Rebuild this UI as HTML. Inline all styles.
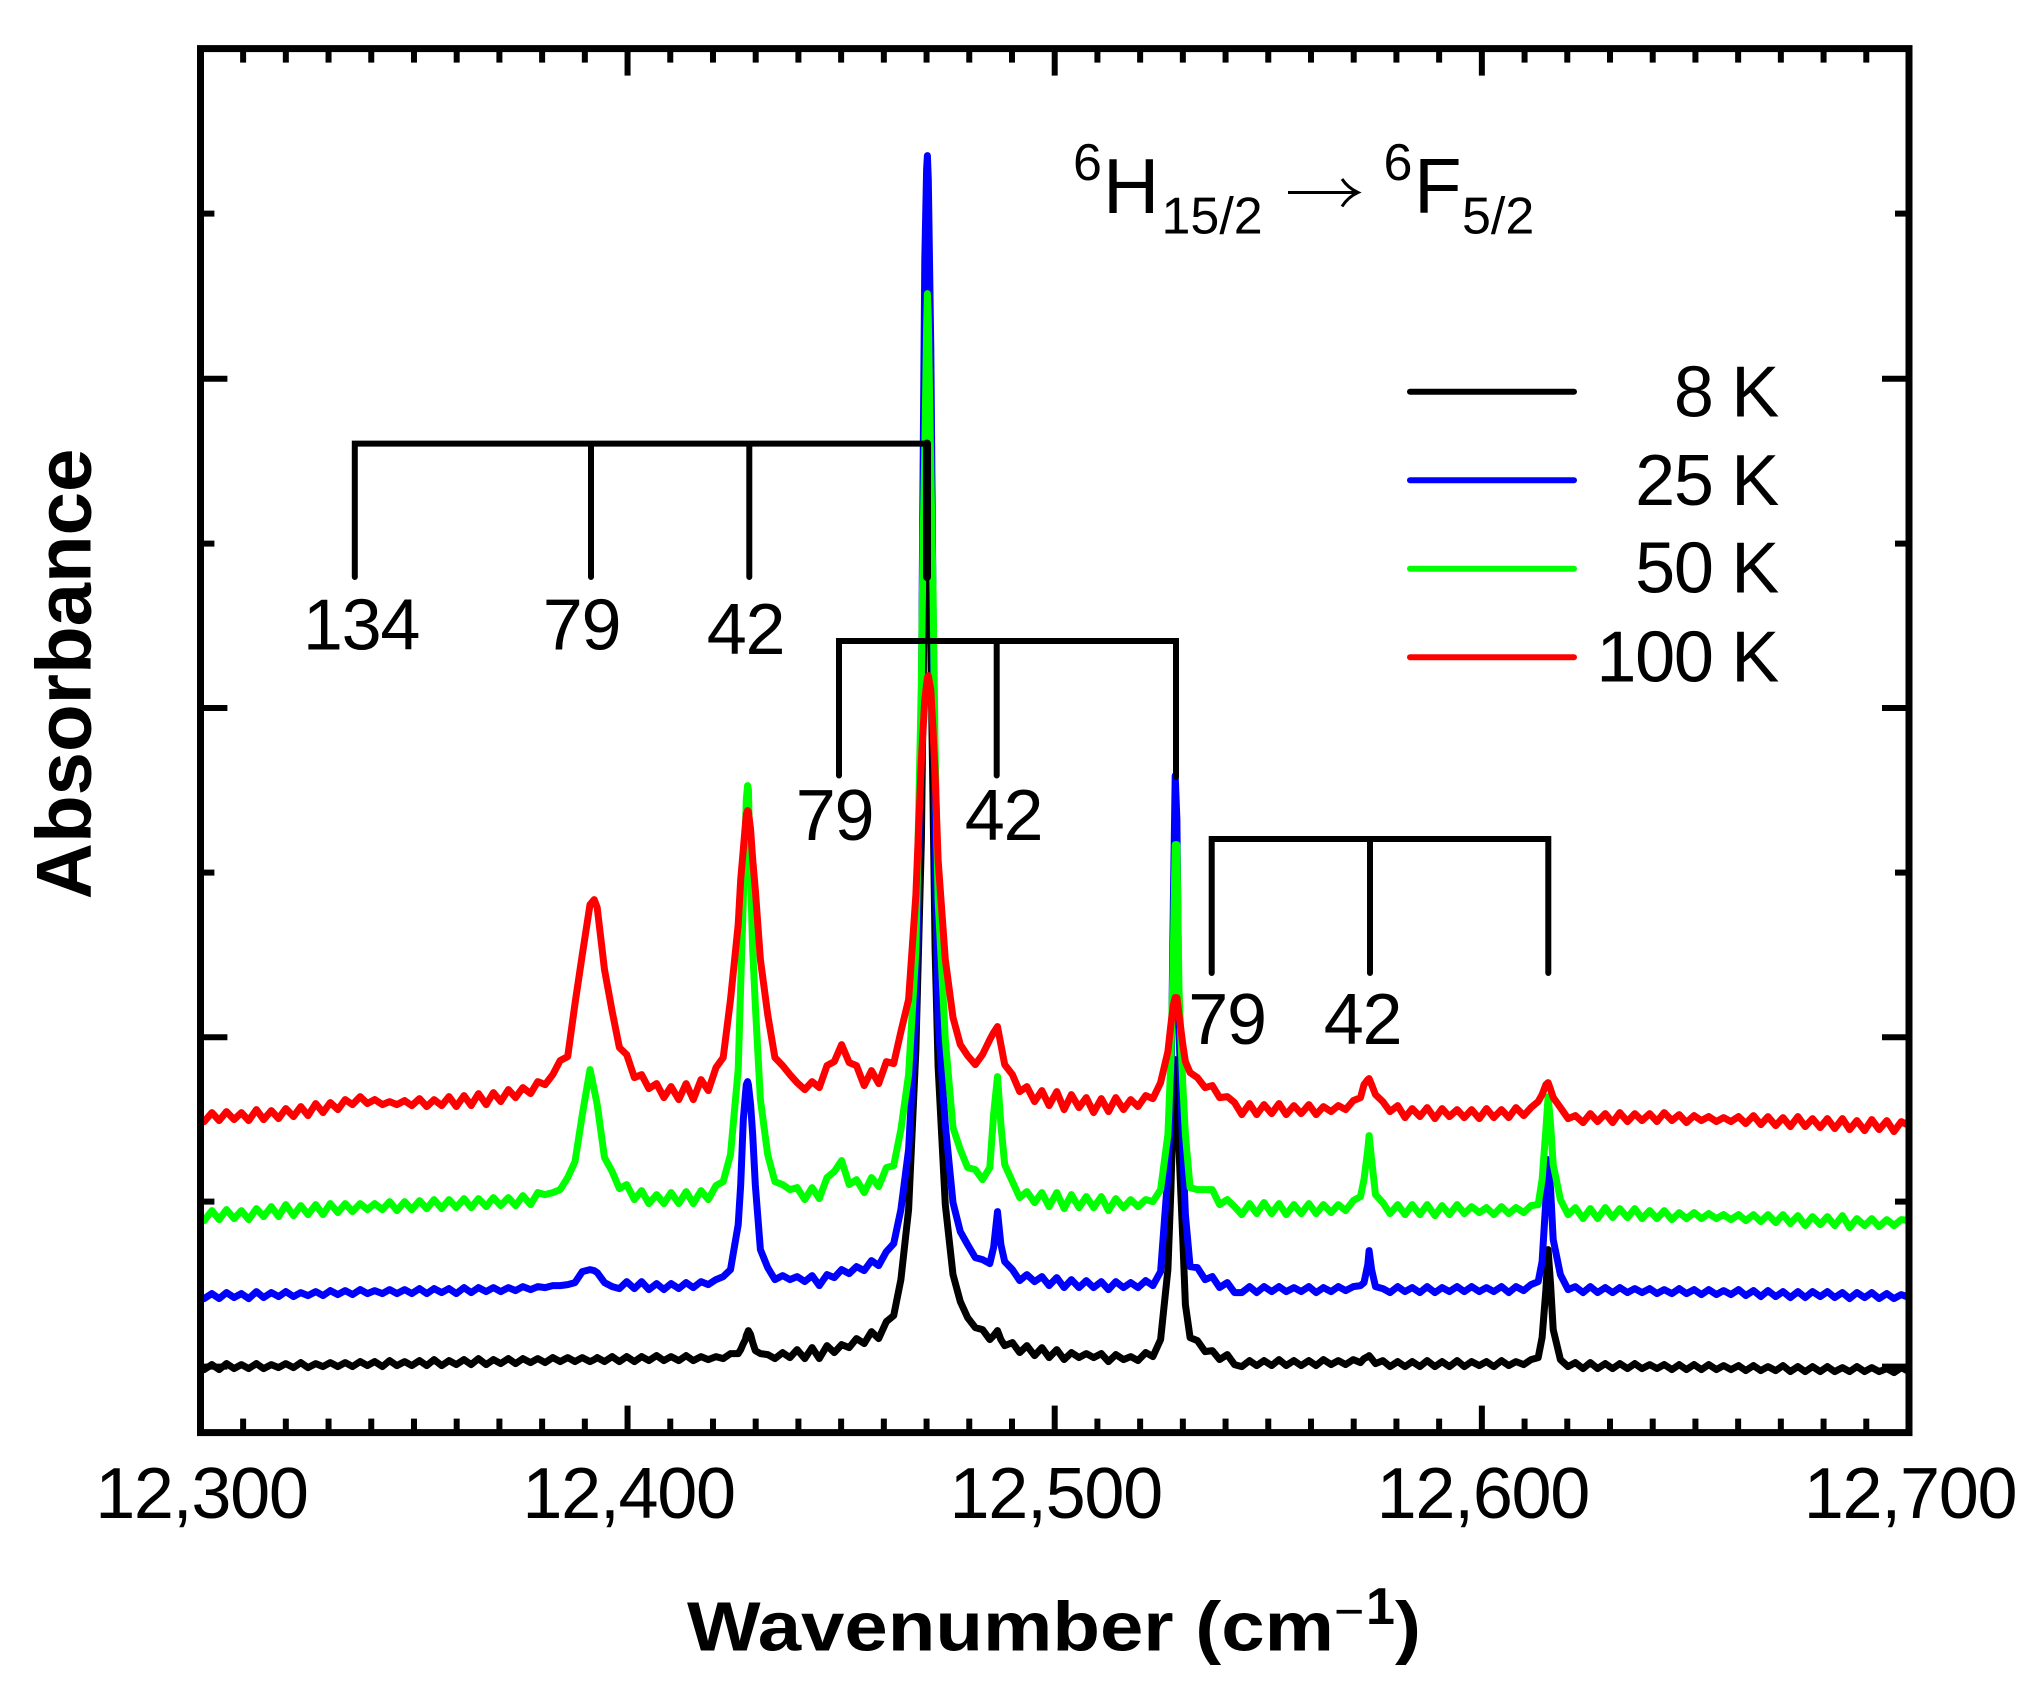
<!DOCTYPE html>
<html lang="en">
<head>
<meta charset="utf-8">
<title>Absorbance spectrum</title>
<style>
html,body{margin:0;padding:0;background:#fff;}
svg{display:block;}
text{font-family:"Liberation Sans",Arial,sans-serif;fill:#000;}
.lab{font-size:72px;letter-spacing:-1.3px;}
.bold{font-weight:bold;font-size:78px;}
.xtitle{font-weight:bold;font-size:70px;}
.bracket{fill:none;stroke:#000;stroke-width:6;stroke-linejoin:miter;stroke-linecap:round;}
.leg{stroke-width:6;stroke-linecap:round;}
</style>
</head>
<body>
<svg id="chart" xmlns="http://www.w3.org/2000/svg" width="2042" height="1692" viewBox="0 0 2042 1692">
  <rect x="0" y="0" width="2042" height="1692" fill="#fff"/>
  <g id="series-layer"></g>
  <g id="tick-layer"></g>
  <rect x="200.5" y="48.6" width="1708.5" height="1384" fill="none" stroke="#000" stroke-width="7"/>

  <g>
    <text x="1073" y="180" font-size="52">6</text>
    <text x="1103" y="213" font-size="78">H</text>
    <text x="1161.5" y="233.5" font-size="52">15/2</text>
    <path d="M1288 192.5 H1356 M1342 179 Q1348 188 1358 192.5 Q1348 197 1342 206.5" fill="none" stroke="#000" stroke-width="3"/>
    <text x="1383.5" y="180" font-size="52">6</text>
    <text x="1414" y="213" font-size="78">F</text>
    <text x="1462" y="233.5" font-size="52">5/2</text>
  </g>

  <g>
    <line class="leg" x1="1410" y1="391.8" x2="1574" y2="391.8" stroke="#000"/>
    <line class="leg" x1="1410" y1="480.3" x2="1574" y2="480.3" stroke="#0000ff"/>
    <line class="leg" x1="1410" y1="568.8" x2="1574" y2="568.8" stroke="#00ff00"/>
    <line class="leg" x1="1410" y1="657.3" x2="1574" y2="657.3" stroke="#ff0000"/>
    <text class="lab" x="1778" y="416.7" text-anchor="end">8 K</text>
    <text class="lab" x="1778" y="505" text-anchor="end">25 K</text>
    <text class="lab" x="1778" y="592.7" text-anchor="end">50 K</text>
    <text class="lab" x="1778" y="681.7" text-anchor="end">100 K</text>
  </g>

  <g>
    <path class="bracket" d="M354.8 577 V443.6 H927 M591 443.6 V577 M749.3 443.6 V577"/>
    <path class="bracket" style="stroke-width:8" d="M927 443.6 V577"/>
    <text class="lab" x="361" y="649.3" text-anchor="middle">134</text>
    <text class="lab" x="581.5" y="649.5" text-anchor="middle">79</text>
    <text class="lab" x="745.5" y="654" text-anchor="middle">42</text>
  </g>
  <g>
    <path class="bracket" d="M839 775.5 V641 H1176 V777 M996.7 641 V775.5"/>
    <text class="lab" x="834.5" y="840" text-anchor="middle">79</text>
    <text class="lab" x="1003.5" y="840" text-anchor="middle">42</text>
  </g>
  <g>
    <path class="bracket" d="M1211.7 973 V839 H1548.3 V973 M1370 839 V973"/>
    <text class="lab" x="1227" y="1044" text-anchor="middle">79</text>
    <text class="lab" x="1362.5" y="1044" text-anchor="middle">42</text>
  </g>

  <text class="bold" transform="translate(90.5 674) rotate(-90)" text-anchor="middle">Absorbance</text>
  <g>
    <text class="xtitle" transform="translate(687 1650.7) scale(1.114 1)">Wavenumber (cm</text>
    <text x="1334" y="1629" font-size="52">−</text>
    <text x="1366" y="1624" font-size="52" font-weight="bold">1</text>
    <text class="xtitle" transform="translate(1395 1650.7) scale(1.114 1)">)</text>
  </g>
</svg>
<script>
// Shared wavenumber sampling (cm-1)
const wavenumbers = [
12300.0,12300.9,12302.7,12304.4,12306.1,12307.9,12309.6,12311.3,12313.1,12314.8,
12316.6,12318.3,12320.0,12321.8,12323.5,12325.2,12327.0,12328.7,12330.4,12332.2,
12333.9,12335.6,12337.4,12339.1,12340.8,12342.6,12344.3,12346.0,12347.8,12349.5,
12351.3,12353.0,12354.7,12356.5,12358.2,12359.9,12361.7,12363.4,12365.1,12366.9,
12368.6,12370.3,12372.1,12373.8,12375.5,12377.3,12379.0,12380.7,12382.5,12384.2,
12386.0,12387.7,12389.4,12391.2,12392.9,12394.6,12396.4,12398.1,12399.8,12401.6,
12403.3,12405.0,12406.8,12408.5,12410.2,12412.0,12413.7,12415.4,12417.2,12418.9,
12420.7,12422.4,12424.1,12425.9,12427.6,12429.3,12431.1,12432.8,12434.5,12436.3,
12438.0,12439.7,12441.5,12443.2,12444.9,12446.7,12448.4,12450.1,12451.9,12453.6,
12455.4,12457.1,12458.8,12460.6,12462.3,12464.0,12465.8,12467.5,12469.2,12471.0,
12472.7,12474.4,12476.2,12477.9,12479.6,12481.4,12483.1,12484.8,12486.6,12488.3,
12490.1,12491.8,12493.5,12495.3,12497.0,12498.7,12500.5,12502.2,12503.9,12505.7,
12507.4,12509.1,12510.9,12512.6,12514.3,12516.1,12517.8,12519.5,12521.3,12523.0,
12524.8,12526.5,12528.2,12530.0,12531.7,12533.4,12535.2,12536.9,12538.6,12540.4,
12542.1,12543.8,12545.6,12547.3,12549.0,12550.8,12552.5,12554.2,12556.0,12557.7,
12559.5,12561.2,12562.9,12564.7,12566.4,12568.1,12569.9,12571.6,12573.3,12575.1,
12576.8,12578.5,12580.3,12582.0,12583.7,12585.5,12587.2,12589.0,12590.7,12592.4,
12594.2,12595.9,12597.6,12599.4,12601.1,12602.8,12604.6,12606.3,12608.0,12609.8,
12611.5,12613.2,12615.0,12616.7,12618.4,12620.2,12621.9,12623.7,12625.4,12627.1,
12628.9,12630.6,12632.3,12634.1,12635.8,12637.5,12639.3,12641.0,12642.7,12644.5,
12646.2,12647.9,12649.7,12651.4,12653.1,12654.9,12656.6,12658.3,12660.1,12661.8,
12663.6,12665.3,12667.0,12668.8,12670.5,12672.2,12674.0,12675.7,12677.4,12679.2,
12680.9,12682.6,12684.4,12686.1,12687.8,12689.6,12691.3,12693.0,12694.8,12696.5,
12698.2,12700.0];

// Extra sampling close to the sharp lines
const peakWavenumbers = [12392.2,12426.5,12427.1,12427.8,12428.1,12428.3,12428.8,12429.9,
12468.8,12469.6,12470.0,12470.2,12470.4,12471.5,12472.0,12485.7,12487.4,
12527.2,12527.8,12528.6,12529.1,12530.6,12572.4,12573.6,12574.2,12614.1,12615.5,12616.1];

// Absorbance in arbitrary units (offset traces)
const absorbance8K = [
66,63,68,63,69,64,68,64,69,64,68,65,69,65,70,65,69,66,70,66,
70,66,71,67,71,66,72,67,71,67,72,67,73,67,72,68,73,68,74,68,
73,69,74,69,74,70,74,70,75,71,75,71,75,71,75,71,76,71,76,71,
76,72,77,72,76,72,77,72,76,73,76,74,79,79,93,90,79,78,74,80,
75,83,74,85,74,87,80,88,85,94,89,101,94,111,117,153,223,383,733,783,
366,228,158,131,115,105,103,93,102,87,90,80,87,77,85,75,83,73,80,75,
79,75,79,71,78,73,76,72,80,76,93,163,373,193,95,92,81,82,73,78,
68,66,72,67,72,67,73,67,72,67,72,67,73,68,72,68,73,70,76,69,
72,66,71,66,71,66,72,66,71,66,72,66,71,67,71,66,72,67,71,68,
73,75,143,103,73,66,70,64,70,64,69,64,69,64,69,64,68,64,68,63,
68,63,68,63,68,63,67,63,67,62,67,62,66,62,67,61,66,61,66,61,
66,61,65,61,66,61,65,61,64,60,65,61];
const absorbance8KPeaks = [73,83,89,97,100,102,98,82,593,933,1003,1033,1003,633,483,97,93,243,333,343,283,128,74,77,74,95,183,148];

const absorbance25K = [
136,134,139,134,140,135,139,134,141,135,140,136,141,136,140,137,141,137,142,138,
142,138,143,139,142,139,143,139,143,139,144,139,144,140,144,139,145,140,145,141,
145,141,145,142,146,143,146,145,147,147,148,150,161,163,160,150,146,144,151,144,
151,143,149,143,149,144,150,145,151,148,153,156,163,208,338,298,183,165,153,157,
153,156,151,157,147,158,155,163,159,166,162,172,167,181,189,223,283,418,963,1083,
413,308,230,201,188,175,173,169,221,171,163,152,158,151,156,147,155,145,153,145,
152,145,151,143,151,145,150,145,152,147,161,258,657,283,166,165,153,156,145,150,
140,140,146,140,146,141,146,141,145,141,146,140,145,141,146,142,146,147,168,146,
144,140,146,141,145,140,146,140,145,141,146,141,146,141,145,141,146,140,146,142,
148,151,233,193,158,143,146,140,146,140,145,140,145,140,144,140,144,139,143,139,
144,139,143,138,143,138,142,138,143,137,142,136,142,136,141,135,141,135,141,136,
141,135,140,134,140,135,140,134,139,134,138,135];
const absorbance25KPeaks = [162,248,313,348,351,348,328,248,733,1173,1263,1277,1253,833,583,185,188,333,533,613,403,218,150,182,163,171,273,243];

const absorbance50K = [
216,212,222,213,223,214,222,213,224,216,226,216,228,217,227,218,228,218,229,220,
229,221,229,223,229,223,231,222,231,223,232,224,233,224,233,225,234,225,234,226,
235,227,235,227,237,228,240,238,240,243,255,271,318,363,328,275,261,244,248,233,
242,229,238,229,240,229,241,229,242,233,247,251,278,363,603,483,333,278,251,248,
243,245,233,245,234,255,261,272,248,253,240,255,246,265,267,303,358,483,893,963,
533,393,305,283,265,263,253,265,356,268,251,235,241,230,240,226,240,224,238,225,
236,225,236,222,234,225,233,226,233,231,243,298,588,348,245,243,243,243,228,233,
226,218,229,219,230,219,229,218,228,219,229,219,228,220,228,222,232,236,283,238,
230,219,228,218,228,218,228,217,227,218,228,219,226,220,225,218,226,219,225,220,
227,228,303,268,233,218,225,214,224,214,225,215,224,215,224,214,222,214,222,213,
220,214,220,214,219,214,218,213,218,212,218,211,218,210,218,209,217,207,216,208,
216,207,217,205,214,207,214,206,213,207,213,212];
const absorbance50KPeaks = [343,448,533,633,647,643,553,428,753,983,1103,1139,1113,843,683,318,308,373,483,588,443,298,253,297,273,253,336,308];

const absorbance100K = [
314,311,320,312,321,313,320,312,323,313,322,314,324,316,326,317,329,320,330,323,
333,328,336,329,333,328,331,328,332,327,334,326,333,327,336,326,337,327,339,328,
340,331,343,335,345,339,351,348,358,372,376,429,478,528,525,463,421,385,378,355,
358,344,349,335,346,333,349,333,353,342,365,375,433,508,608,573,473,418,375,367,
358,350,343,351,345,367,371,388,370,367,347,362,349,371,369,401,433,538,703,743,
573,473,415,388,377,368,378,393,406,368,358,341,346,331,342,327,341,323,338,325,
335,320,334,321,335,323,333,326,337,334,350,381,435,388,360,355,345,347,335,336,
330,318,329,318,328,319,329,318,327,319,328,318,326,321,327,323,332,335,353,338,
331,321,327,315,324,316,325,314,324,316,323,315,323,314,324,315,323,315,325,317,
325,331,348,335,325,314,317,310,319,311,319,310,320,311,319,312,319,311,320,312,
318,310,317,312,316,311,315,311,316,309,317,308,316,307,315,306,316,306,314,305,
314,304,314,303,312,302,313,303,312,301,311,307];
const absorbance100KPeaks = [533,553,583,618,622,621,603,543,673,733,748,755,757,703,658,400,388,408,428,435,418,371,348,354,348,338,350,343];

// Axis ticks and labels
const xMajorTicks = [12300,12400,12500,12600,12700];
const xTickLabels = ["12,300","12,400","12,500","12,600","12,700"];
const xMinorTicks = [12310,12320,12330,12340,12350,12360,12370,12380,12390,
12410,12420,12430,12440,12450,12460,12470,12480,12490,
12510,12520,12530,12540,12550,12560,12570,12580,12590,
12610,12620,12630,12640,12650,12660,12670,12680,12690];
const yMajorTicks = [66,395.3,724.6,1053.9];
const yMinorTicks = [231,560,889,1219];

const xDomain = [12300,12700];
const yDomain = [0,1384];
const plotLeft = 200.4, plotRight = 1909, plotTop = 48.6, plotBottom = 1432.6;
function xScale(w){ return plotLeft + (w - xDomain[0]) / (xDomain[1] - xDomain[0]) * (plotRight - plotLeft); }
function yScale(v){ return plotBottom - (v - yDomain[0]) / (yDomain[1] - yDomain[0]) * (plotBottom - plotTop); }

const NS = "http://www.w3.org/2000/svg";
function merged(base, peaks){
  const pts = [];
  wavenumbers.forEach(function(w,i){ pts.push([w, base[i]]); });
  peakWavenumbers.forEach(function(w,i){ pts.push([w, peaks[i]]); });
  pts.sort(function(a,b){ return a[0]-b[0]; });
  return pts;
}
const seriesLayer = document.getElementById("series-layer");
function drawSeries(name, base, peaks, color){
  const d = merged(base, peaks).map(function(p,i){
    return (i ? "L" : "M") + xScale(p[0]).toFixed(1) + " " + yScale(p[1]).toFixed(1);
  }).join("");
  const el = document.createElementNS(NS, "path");
  el.setAttribute("d", d);
  el.setAttribute("fill", "none");
  el.setAttribute("stroke", color);
  el.setAttribute("stroke-width", "7");
  el.setAttribute("stroke-linejoin", "round");
  
  
  seriesLayer.appendChild(el);
}
drawSeries("trace-8k", absorbance8K, absorbance8KPeaks, "#000000");
drawSeries("trace-25k", absorbance25K, absorbance25KPeaks, "#0000ff");
drawSeries("trace-50k", absorbance50K, absorbance50KPeaks, "#00ff00");
drawSeries("trace-100k", absorbance100K, absorbance100KPeaks, "#ff0000");

const tickLayer = document.getElementById("tick-layer");
function tickLine(x1,y1,x2,y2,name){
  const el = document.createElementNS(NS, "line");
  el.setAttribute("x1", x1);
  el.setAttribute("y1", y1);
  el.setAttribute("x2", x2);
  el.setAttribute("y2", y2);
  el.setAttribute("stroke", "#000");
  el.setAttribute("stroke-width", "6");
  
  
  tickLayer.appendChild(el);
}
const majorLen = 27, minorLen = 14;
xMajorTicks.forEach(function(t,i){
  const x = xScale(t);
  if (i > 0 && i < xMajorTicks.length - 1) {
    tickLine(x, plotBottom, x, plotBottom - majorLen, "x-major-tick");
    tickLine(x, plotTop, x, plotTop + majorLen, "x-major-tick-top");
  }
  const label = document.createElementNS(NS, "text");
  label.setAttribute("x", x + 1);
  label.setAttribute("y", 1518);
  label.setAttribute("text-anchor", "middle");
  label.setAttribute("class", "lab");
  
  
  label.textContent = xTickLabels[i];
  tickLayer.appendChild(label);
});
xMinorTicks.forEach(function(t){
  const x = xScale(t);
  tickLine(x, plotBottom, x, plotBottom - minorLen, "x-minor-tick");
  tickLine(x, plotTop, x, plotTop + minorLen, "x-minor-tick-top");
});
yMajorTicks.forEach(function(t){
  const y = yScale(t);
  tickLine(plotLeft, y, plotLeft + majorLen, y, "y-major-tick");
  tickLine(plotRight, y, plotRight - majorLen, y, "y-major-tick-right");
});
yMinorTicks.forEach(function(t){
  const y = yScale(t);
  tickLine(plotLeft, y, plotLeft + minorLen, y, "y-minor-tick");
  tickLine(plotRight, y, plotRight - minorLen, y, "y-minor-tick-right");
});
</script>
</body>
</html>
